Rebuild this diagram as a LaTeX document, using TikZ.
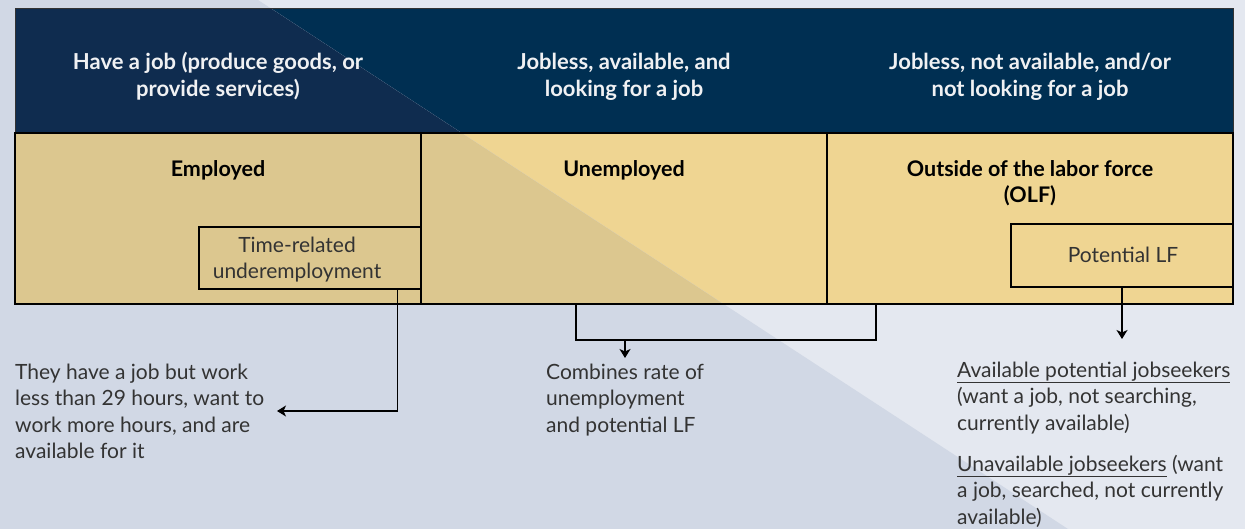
\documentclass[tikz,border=0pt]{standalone}
\usepackage{fontspec}
\setmainfont{Lato}
\usetikzlibrary{arrows.meta}
\definecolor{bglight}{HTML}{E4E8F0}
\definecolor{bgdark}{HTML}{D1D8E5}
\definecolor{navy}{HTML}{002F52}
\definecolor{navydark}{HTML}{0F2C4F}
\definecolor{tanlight}{HTML}{EFD592}
\definecolor{tandark}{HTML}{DCC78F}
\definecolor{txt}{HTML}{333333}
\definecolor{headtxt}{HTML}{F0F1F3}
\begin{document}
\begin{tikzpicture}[x=1pt,y=-1pt,
  cellbox/.style={draw=black,line width=1.5pt,minimum width=406pt,minimum height=171pt,inner sep=0pt},
  subbox/.style={draw=black,line width=1.3pt,inner sep=0pt},
  headtext/.style={text=headtxt,font=\fontsize{22}{27}\selectfont\bfseries,align=center,inner sep=0pt,anchor=base},
  celltext/.style={text=black,font=\fontsize{21.5}{26.5}\selectfont\bfseries,align=center,inner sep=0pt,anchor=base},
  bodytext/.style={text=txt,font=\fontsize{21}{26.5}\selectfont,inner sep=0pt},
  conn/.style={draw=black,line width=1.5pt},
  arr/.style={conn,-{Stealth[length=9pt,width=11pt,inset=2.5pt]}}]
\useasboundingbox (0,0) rectangle (1245,529);
% backgrounds
\fill[bglight] (0,0) rectangle (1245,529);
\fill[navy] (15,9) rectangle (1233,133);
\fill[tanlight] (15,133) rectangle (1233,304);
\begin{scope}
\clip (0,0) -- (258,0) -- (1068,529) -- (0,529) -- cycle;
\fill[bgdark] (0,0) rectangle (1245,529);
\fill[navydark] (15,9) rectangle (1233,133);
\fill[tandark] (15,133) rectangle (1233,304);
\end{scope}
% header frame
\node[draw=black!80,line width=1pt,minimum width=1218pt,minimum height=124pt,inner sep=0pt] (head) at (624,71) {};
% header texts
\node[headtext] (h1) at (218,97) {Have a job (produce goods, or\\provide services)};
\node[headtext] (h2) at (624,97) {Jobless, available, and\\looking for a job};
\node[headtext] (h3) at (1030,97) {Jobless, not available, and/or\\not looking for a job};
% cells
\node[cellbox] (emp) at (218,218.5) {};
\node[cellbox] (unemp) at (624,218.5) {};
\node[cellbox] (olf) at (1030,218.5) {};
\node[celltext] (empl) at (218,177) {Employed};
\node[celltext] (unempl) at (624,177) {Unemployed};
\node[celltext] (olfl) at (1030,203) {Outside of the labor force\\(OLF)};
% sub boxes
\node[subbox,minimum width=222pt,minimum height=62pt] (tru) at (310,258) {};
\node[bodytext,align=center,anchor=base] (trul) at (297,279) {Time-related\\underemployment};
\node[subbox,minimum width=222pt,minimum height=63pt] (plf) at (1122,255.5) {};
\node[bodytext,anchor=base] (plfl) at (1123,263) {Potential LF};
% notes
\node[bodytext,align=left,anchor=base west] (left) at (15,458.5) {They have a job but work\\less than 29 hours, want to\\work more hours, and are\\available for it};
\node[bodytext,align=left,anchor=base west] (comb) at (546,432) {Combines rate of\\unemployment\\and potential LF};
\node[bodytext,align=left,anchor=base west] (right) at (957,524) {\underline{Available potential jobseekers}\\(want a job, not searching,\\currently available)\\[14.5pt]\underline{Unavailable jobseekers} (want\\a job, searched, not currently\\available)};
\coordinate (a1) at (277,411);
\coordinate (c1) at (625,358);
\coordinate (p1) at (1122,339);
% connectors
\draw[arr] ([xshift=-24pt]tru.south east) |- (a1);
\draw[conn] ([xshift=-48pt]unemp.south) -- ++(0,35) -| ([xshift=-154pt]olf.south);
\draw[arr] ([xshift=1pt,yshift=-35pt]unemp.south) -- (c1);
\draw[arr] (plf.south) -- (p1);
\end{tikzpicture}
\end{document}
